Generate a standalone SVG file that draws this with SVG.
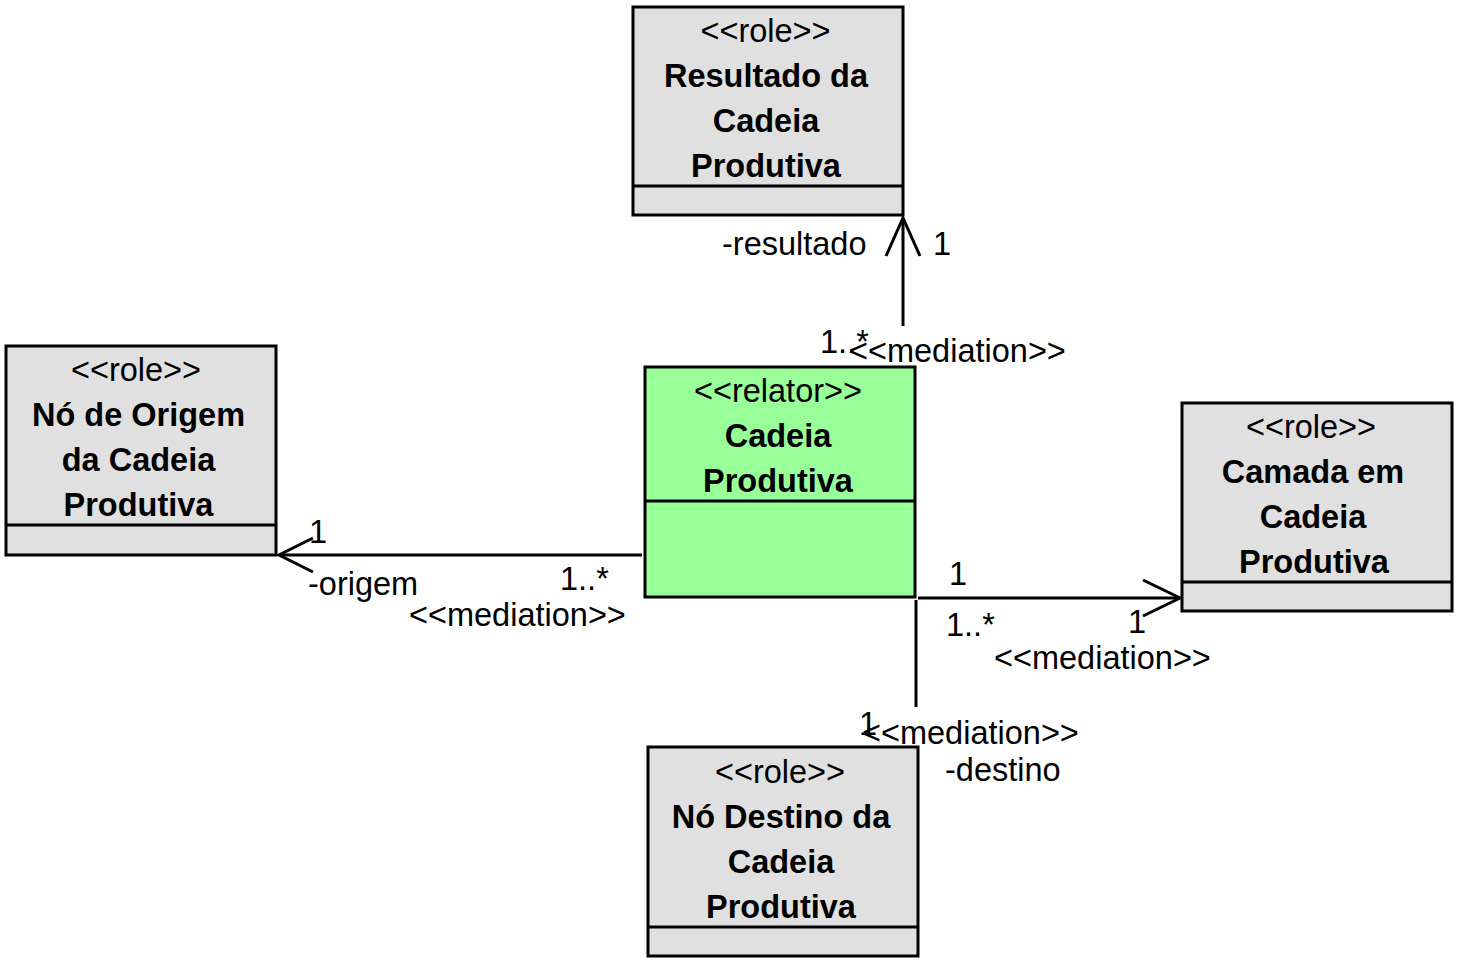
<svg xmlns="http://www.w3.org/2000/svg" width="1464" height="969" viewBox="0 0 1464 969">
<style>
.box{stroke:#000;stroke-width:3;}
.role{fill:#E0E0E0;}
.rel{fill:#99FF99;}
.div{stroke:#000;stroke-width:3;}
text{font-family:"Liberation Sans",Arial,sans-serif;font-size:32.5px;fill:#000;}
.b{font-weight:bold;}
.c{text-anchor:middle;}
.ln{stroke:#000;stroke-width:3;fill:none;}
</style>
<rect width="1464" height="969" fill="#fff"/>
<g id="resultado">
<rect class="box role" x="633" y="7" width="270" height="208"/>
<line class="div" x1="633" y1="186" x2="903" y2="186"/>
<text class="c" x="765.5" y="42">&lt;&lt;role&gt;&gt;</text>
<text class="c b" x="766" y="87">Resultado da</text>
<text class="c b" x="766" y="132">Cadeia</text>
<text class="c b" x="766" y="177">Produtiva</text>
</g>
<g id="origem">
<rect class="box role" x="6" y="346" width="270" height="209"/>
<line class="div" x1="6" y1="525" x2="276" y2="525"/>
<text class="c" x="136" y="381">&lt;&lt;role&gt;&gt;</text>
<text class="c b" x="138.5" y="426">Nó de Origem</text>
<text class="c b" x="138.5" y="471">da Cadeia</text>
<text class="c b" x="138.5" y="516">Produtiva</text>
</g>
<g id="cadeia">
<rect class="box rel" x="645" y="367" width="270" height="230"/>
<line class="div" x1="645" y1="501" x2="915" y2="501"/>
<text class="c" x="778" y="402">&lt;&lt;relator&gt;&gt;</text>
<text class="c b" x="778" y="447">Cadeia</text>
<text class="c b" x="778" y="492">Produtiva</text>
</g>
<g id="camada">
<rect class="box role" x="1182" y="403" width="270" height="208"/>
<line class="div" x1="1182" y1="582" x2="1452" y2="582"/>
<text class="c" x="1311" y="438">&lt;&lt;role&gt;&gt;</text>
<text class="c b" x="1313" y="483">Camada em</text>
<text class="c b" x="1313" y="528">Cadeia</text>
<text class="c b" x="1314" y="573">Produtiva</text>
</g>
<g id="destino">
<rect class="box role" x="648" y="747" width="270" height="209"/>
<line class="div" x1="648" y1="927" x2="918" y2="927"/>
<text class="c" x="780" y="783">&lt;&lt;role&gt;&gt;</text>
<text class="c b" x="781" y="828">Nó Destino da</text>
<text class="c b" x="781" y="873">Cadeia</text>
<text class="c b" x="781" y="918">Produtiva</text>
</g>
<g id="connectors">
<line class="ln" x1="903" y1="326" x2="903" y2="218"/>
<polyline class="ln" points="886,256 903,218 920,256"/>
<line class="ln" x1="642" y1="555" x2="280" y2="555"/>
<polyline class="ln" points="313,538 279,555 313,572"/>
<line class="ln" x1="918" y1="598" x2="1179" y2="598"/>
<polyline class="ln" points="1143,580 1180,598 1143,616"/>
<line class="ln" x1="916" y1="600" x2="916" y2="707"/>
<text x="722" y="255">-resultado</text>
<text x="933" y="255">1</text>
<text x="820" y="353">1..*</text>
<text x="849" y="362">&lt;&lt;mediation&gt;&gt;</text>
<text x="309" y="543">1</text>
<text x="308" y="595">-origem</text>
<text x="560" y="590">1..*</text>
<text x="409" y="626">&lt;&lt;mediation&gt;&gt;</text>
<text x="949" y="585">1</text>
<text x="946" y="636">1..*</text>
<text x="1128" y="633">1</text>
<text x="994" y="669">&lt;&lt;mediation&gt;&gt;</text>
<text x="859" y="735">1</text>
<text x="862" y="744">&lt;&lt;mediation&gt;&gt;</text>
<text x="945" y="781">-destino</text>
</g>
</svg>
